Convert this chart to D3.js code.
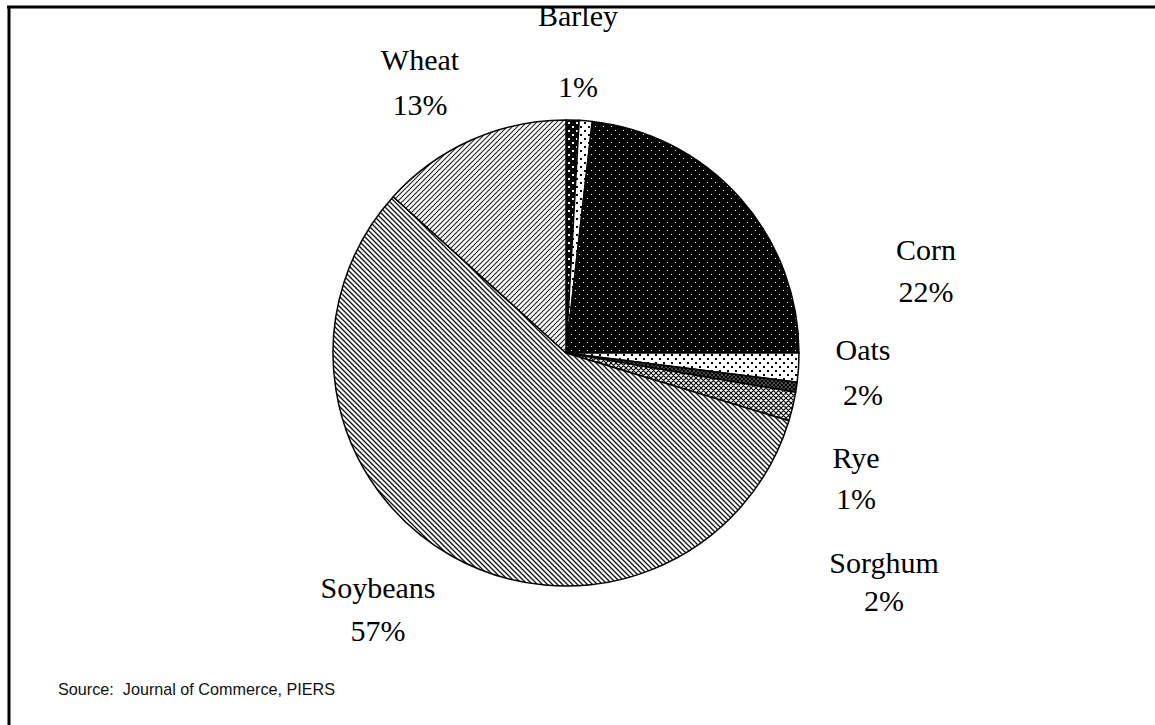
<!DOCTYPE html>
<html>
<head>
<meta charset="utf-8">
<script src="https://cdn.jsdelivr.net/npm/d3@7"></script>
<style>
  html, body { margin: 0; padding: 0; background: #fff; }
  svg { display: block; }
</style>
</head>
<body>
<svg id="chart" width="1155" height="725"></svg>
<script>
// ---- data ----
const categories = ["Barley", "", "Corn", "Oats", "Rye", "Sorghum", "Soybeans", "Wheat"];
const values     = [0.9, 0.9, 23.2, 2.0, 0.7, 2.0, 57.0, 13.3];
const pctLabels  = ["1%", "", "22%", "2%", "1%", "2%", "57%", "13%"];
const sourceText = "Source:  Journal of Commerce, PIERS";

// ---- layout ----
const W = 1155, H = 725;
const cx = 566, cy = 353, R = 233;
// label anchors relative to pie centre: [dx, name baseline dy, pct baseline dy] (layout, not data)
const labelOffsets = {
  "Barley":   [12, -327, -256],
  "Wheat":    [-146, -283, -238],
  "Corn":     [360, -93, -51],
  "Oats":     [297, 7, 52],
  "Rye":      [290, 115, 156],
  "Sorghum":  [318, 220, 258],
  "Soybeans": [-188, 245, 288]
};
const patternIds = ["pBarley", "pOther", "pCorn", "pOats", "pRye", "pSorghum", "pSoy", "pWheat"];

const svg = d3.select("#chart");
const defs = svg.append("defs");

function dotPattern(id, bg, fg, size, dots, dotSize) {
  const p = defs.append("pattern").attr("id", id)
    .attr("patternUnits", "userSpaceOnUse").attr("width", size).attr("height", size);
  p.append("rect").attr("width", size).attr("height", size).attr("fill", bg);
  dots.forEach(d => p.append("rect").attr("x", d[0]).attr("y", d[1])
    .attr("width", dotSize).attr("height", dotSize).attr("fill", fg)
    .attr("shape-rendering", "crispEdges"));
}
function hatchPattern(id, size, dir, color, sw) {
  const p = defs.append("pattern").attr("id", id)
    .attr("patternUnits", "userSpaceOnUse").attr("width", size).attr("height", size);
  p.append("rect").attr("width", size).attr("height", size).attr("fill", "#fff");
  const s = size;
  const path = dir === "down"
    ? `M0,0 L${s},${s} M${-1},${s-1} L1,${s+1} M${s-1},-1 L${s+1},1`
    : `M0,${s} L${s},0 M-1,1 L1,-1 M${s-1},${s+1} L${s+1},${s-1}`;
  p.append("path").attr("d", path).attr("stroke", color).attr("stroke-width", sw);
}
function crossPattern(id, size, color, sw, bg) {
  const p = defs.append("pattern").attr("id", id)
    .attr("patternUnits", "userSpaceOnUse").attr("width", size).attr("height", size);
  p.append("rect").attr("width", size).attr("height", size).attr("fill", bg);
  const s = size;
  p.append("path")
    .attr("d", `M0,0 L${s},${s} M0,${s} L${s},0 M-1,1 L1,-1 M${s-1},${s+1} L${s+1},${s-1} M-1,${s-1} L1,${s+1} M${s-1},-1 L${s+1},1`)
    .attr("stroke", color).attr("stroke-width", sw);
}

dotPattern("pBarley", "#000", "#fff", 8, [[2, 1], [6, 5]], 1.6);
dotPattern("pOther", "#fff", "#000", 8, [[2, 1], [6, 5]], 1.6);
dotPattern("pCorn", "#000", "#fff", 8, [[1, 1], [5, 5]], 1.4);
dotPattern("pOats", "#fff", "#000", 8, [[1, 1], [5, 5]], 1.8);
crossPattern("pRye", 4, "#000", 1.4, "#888");
crossPattern("pSorghum", 5, "#000", 1.1, "#fff");
hatchPattern("pSoy", 5, "down", "#111", 1.3);
hatchPattern("pWheat", 5, "up", "#222", 1.1);

// frame (top and left edges visible)
svg.append("line").attr("x1", 7).attr("y1", 7).attr("x2", W).attr("y2", 7)
  .attr("stroke", "#000").attr("stroke-width", 3);
svg.append("line").attr("x1", 9).attr("y1", 6).attr("x2", 9).attr("y2", H)
  .attr("stroke", "#000").attr("stroke-width", 3);

const data = categories.map((c, i) => ({ name: c, value: values[i], pct: pctLabels[i], pat: patternIds[i] }));

const pie = d3.pie().sort(null).value(d => d.value).startAngle(0).endAngle(2 * Math.PI);
const arc = d3.arc().innerRadius(0).outerRadius(R);

const g = svg.append("g").attr("transform", `translate(${cx},${cy})`);
g.selectAll("path.slice")
  .data(pie(data))
  .join("path")
  .attr("class", "slice")
  .attr("d", arc)
  .attr("fill", d => `url(#${d.data.pat})`)
  .attr("stroke", "#000")
  .attr("stroke-width", 1.5)
  .attr("stroke-linejoin", "round");

// labels
const lab = svg.append("g")
  .attr("font-family", "'Liberation Serif', 'Times New Roman', serif")
  .attr("font-size", 30)
  .attr("fill", "#000")
  .attr("text-anchor", "middle");

data.filter(d => d.name !== "").forEach(d => {
  const off = labelOffsets[d.name];
  lab.append("text").attr("x", cx + off[0]).attr("y", cy + off[1]).text(d.name);
  lab.append("text").attr("x", cx + off[0]).attr("y", cy + off[2]).text(d.pct);
});

svg.append("text")
  .attr("x", 58).attr("y", 695)
  .attr("font-family", "'Liberation Sans', Arial, sans-serif")
  .attr("font-size", 16.2)
  .attr("fill", "#111")
  .attr("xml:space", "preserve")
  .style("white-space", "pre")
  .text(sourceText);
</script>
</body>
</html>
